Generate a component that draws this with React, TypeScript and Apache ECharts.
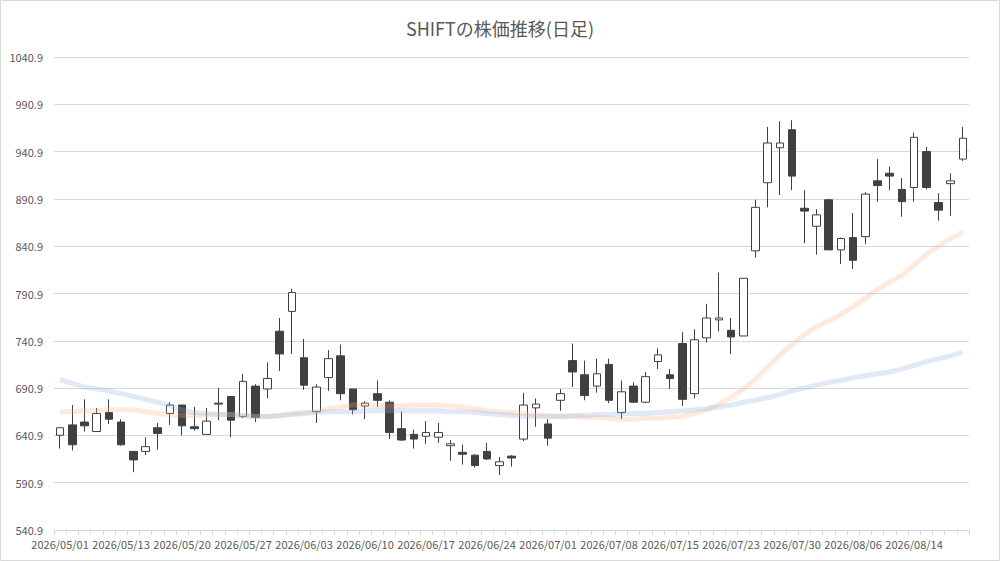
import React, { useEffect, useRef } from "react";
import * as echarts from "echarts";

const dates: string[] = [
  "2026/05/01", "2026/05/07", "2026/05/08", "2026/05/11", "2026/05/12",
  "2026/05/13", "2026/05/14", "2026/05/15", "2026/05/18", "2026/05/19",
  "2026/05/20", "2026/05/21", "2026/05/22", "2026/05/25", "2026/05/26",
  "2026/05/27", "2026/05/28", "2026/05/29", "2026/06/01", "2026/06/02",
  "2026/06/03", "2026/06/04", "2026/06/05", "2026/06/08", "2026/06/09",
  "2026/06/10", "2026/06/11", "2026/06/12", "2026/06/15", "2026/06/16",
  "2026/06/17", "2026/06/18", "2026/06/19", "2026/06/22", "2026/06/23",
  "2026/06/24", "2026/06/25", "2026/06/26", "2026/06/29", "2026/06/30",
  "2026/07/01", "2026/07/02", "2026/07/03", "2026/07/06", "2026/07/07",
  "2026/07/08", "2026/07/09", "2026/07/10", "2026/07/13", "2026/07/14",
  "2026/07/15", "2026/07/16", "2026/07/17", "2026/07/21", "2026/07/22",
  "2026/07/23", "2026/07/24", "2026/07/27", "2026/07/28", "2026/07/29",
  "2026/07/30", "2026/07/31", "2026/08/03", "2026/08/04", "2026/08/05",
  "2026/08/06", "2026/08/07", "2026/08/10", "2026/08/12", "2026/08/13",
  "2026/08/14", "2026/08/17", "2026/08/18", "2026/08/19", "2026/08/20",
];

const opens: number[] = [
  641, 652, 655, 645, 665, 655, 624, 624, 649, 664,
  673, 650, 642, 675, 682, 661, 693, 690, 751, 772,
  723, 666, 702, 725, 690, 672, 685, 676, 648, 642,
  640, 639, 630, 623, 620, 624, 609, 619, 637, 670,
  653, 678, 720, 705, 693, 716, 665, 693, 676, 719,
  705, 738, 685, 744, 763, 752, 746, 836, 908, 945,
  964, 881, 862, 890, 837, 850, 851, 910, 918, 901,
  903, 941, 887, 907, 933,
];

const closes: number[] = [
  649, 631, 651, 664, 658, 631, 615, 629, 643, 673,
  651, 648, 656, 674, 657, 698, 660, 701, 727, 792,
  694, 692, 722, 685, 668, 675, 678, 644, 636, 637,
  644, 644, 632, 621, 609, 616, 613, 617, 673, 674,
  638, 685, 708, 683, 706, 678, 687, 676, 703, 726,
  701, 679, 742, 765, 765, 745, 807, 882, 950, 950,
  915, 878, 874, 837, 849, 826, 896, 905, 915, 888,
  956, 903, 879, 910, 955,
];

const lows: number[] = [
  627, 625, 645, 645, 653, 630, 602, 620, 626, 652,
  641, 646, 642, 657, 639, 659, 655, 680, 709, 727,
  689, 654, 688, 678, 663, 658, 671, 637, 635, 627,
  632, 633, 614, 610, 607, 615, 599, 608, 635, 650,
  630, 667, 692, 678, 686, 675, 658, 675, 675, 711,
  690, 672, 680, 739, 751, 727, 746, 829, 882, 895,
  900, 844, 832, 837, 822, 817, 843, 888, 900, 872,
  888, 901, 868, 873, 931,
];

const highs: number[] = [
  649, 673, 679, 670, 679, 658, 624, 639, 654, 676,
  673, 671, 670, 691, 682, 706, 695, 718, 765, 796,
  743, 695, 731, 737, 690, 677, 699, 678, 666, 647,
  656, 654, 636, 631, 621, 633, 618, 620, 686, 680,
  658, 690, 738, 720, 722, 722, 699, 697, 708, 733,
  711, 750, 753, 780, 813, 765, 807, 890, 967, 973,
  974, 900, 880, 891, 850, 876, 898, 933, 925, 913,
  961, 946, 897, 918, 967,
];

const ma25: number[] = [
  666, 666, 667, 667, 668, 668, 668, 666, 664, 663,
  662, 662, 662, 663, 663, 662, 661, 661, 662, 664,
  665, 666, 669, 671, 673, 673, 672, 672, 672, 673,
  673, 673, 672, 671, 669, 667, 666, 665, 664, 663,
  662, 661, 661, 660, 660, 659, 658, 658, 659, 659,
  660, 661, 664, 668, 674, 681, 690, 700, 713, 726,
  737, 747, 756, 762, 769, 777, 786, 795, 803, 810,
  821, 832, 841, 849, 856,
];

const ma75: number[] = [
  700, 696, 692, 690, 688, 685, 682, 679, 676, 672,
  668, 665, 664, 663, 663, 662, 661, 661, 662, 663,
  664, 665, 666, 666, 666, 667, 667, 667, 667, 667,
  667, 667, 666, 666, 665, 664, 663, 662, 661, 661,
  661, 661, 662, 662, 663, 663, 664, 664, 664, 665,
  666, 667, 668, 669, 671, 673, 676, 678, 681, 684,
  688, 691, 694, 697, 699, 702, 704, 706, 708, 711,
  715, 719, 722, 725, 729,
];

const yMin = 540.9;
const yMax = 1040.9;
const yStep = 50;

const FONT = "'Noto Sans CJK JP', 'Noto Sans', sans-serif";

export default function App() {
  const ref = useRef<HTMLDivElement>(null);

  useEffect(() => {
    document.body.style.margin = "0";
    if (!ref.current) return;
    const chart = echarts.init(ref.current, undefined, { renderer: "svg" });
    const candleData = dates.map((_, i) => [opens[i], closes[i], lows[i], highs[i]]);
    chart.setOption({
      animation: false,
      backgroundColor: "#ffffff",
      textStyle: { fontFamily: FONT },
      title: {
        text: "SHIFTの株価推移(日足)",
        left: "center",
        top: 14,
        textStyle: {
          fontFamily: FONT,
          fontSize: 18,
          fontWeight: "normal",
          color: "#595959",
        },
      },
      graphic: [
        {
          type: "rect",
          shape: { x: 0.5, y: 0.5, width: 999, height: 560 },
          style: { fill: "none", stroke: "#d9d9d9", lineWidth: 1 },
          silent: true,
        },
      ],
      grid: { left: 54, right: 31, top: 57, bottom: 31 },
      xAxis: {
        type: "category",
        data: dates,
        boundaryGap: true,
        axisLine: { lineStyle: { color: "#d9d9d9" } },
        axisTick: { show: true, interval: 0, length: 5, lineStyle: { color: "#d9d9d9" } },
        axisLabel: {
          interval: 4,
          color: "#595959",
          fontSize: 11,
          fontFamily: FONT,
          margin: 8,
        },
        splitLine: { show: false },
      },
      yAxis: {
        type: "value",
        min: yMin,
        max: yMax,
        interval: yStep,
        axisLine: { show: false },
        axisTick: { show: false },
        axisLabel: {
          color: "#595959",
          fontSize: 11,
          fontFamily: FONT,
          margin: 11,
          formatter: (v: number) => v.toFixed(1),
        },
        splitLine: { lineStyle: { color: "#d9d9d9" } },
      },
      series: [
        {
          type: "candlestick",
          data: candleData,
          barWidth: 8,
          itemStyle: {
            color: "#ffffff",
            color0: "#404040",
            borderColor: "#404040",
            borderColor0: "#404040",
            borderWidth: 1,
          },
        },
        {
          type: "line",
          data: ma25,
          symbol: "none",
          lineStyle: { width: 5, color: "#F4B183", opacity: 0.27 },
          z: 3,
        },
        {
          type: "line",
          data: ma75,
          symbol: "none",
          lineStyle: { width: 5, color: "#8FAADC", opacity: 0.27 },
          z: 3,
        },
      ],
    });
    return () => chart.dispose();
  }, []);

  return <div ref={ref} style={{ width: 1000, height: 561 }} />;
}
